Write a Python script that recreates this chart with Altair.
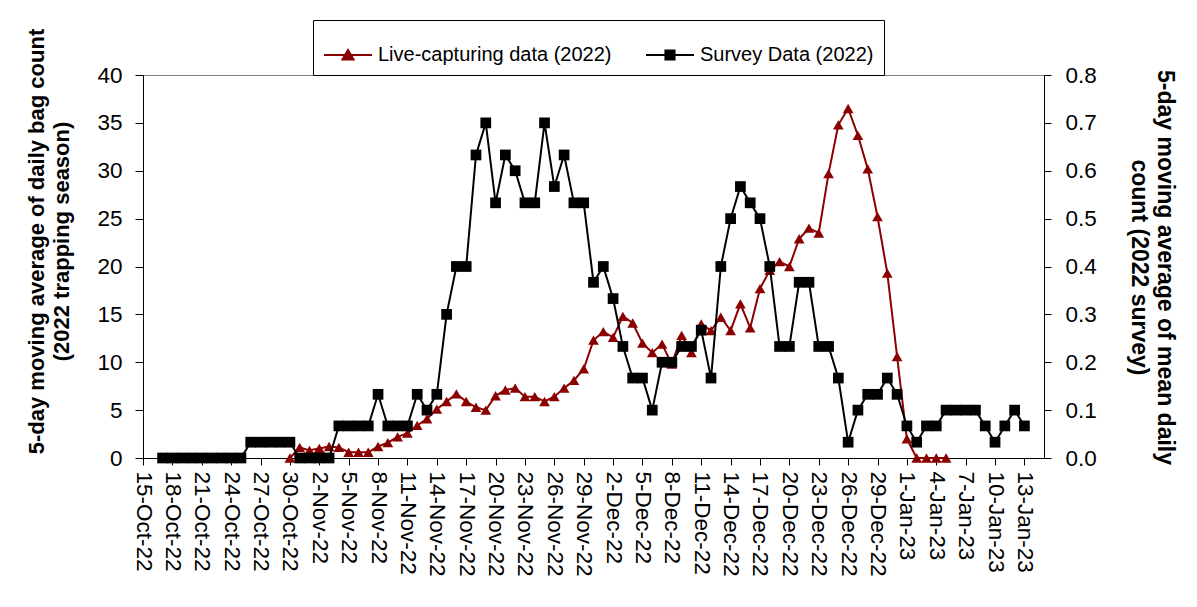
import altair as alt
import pandas as pd

# ---------------- data ----------------
SERIES_NAMES = ["Live-capturing data (2022)", "Survey Data (2022)"]
SERIES_COLORS = ["#8B0000", "#000000"]

# Live-capturing: 5-day moving average of daily bag count, daily from 30-Oct-22 to 5-Jan-23
LIVE_START = "2022-10-30"
live_values = [
    0.0, 1.1,
    0.8, 1.0, 1.2, 1.1, 0.6, 0.6, 0.6, 1.2, 1.6, 2.2, 2.6, 3.4, 4.1, 5.1, 5.9,
    6.7, 5.9, 5.3, 5.0, 6.5, 7.1, 7.3, 6.4, 6.4, 5.9, 6.4, 7.3, 8.1, 9.3, 12.3,
    13.2, 12.6, 14.8, 14.1, 12.0, 11.0, 11.9, 9.8, 12.8, 11.0, 14.0, 13.3, 14.7,
    13.3, 16.1, 13.6, 17.7, 19.6, 20.5, 20.0, 22.9, 24.0, 23.5, 29.7, 34.8, 36.5,
    33.7, 30.2, 25.2, 19.3, 10.6,
    2.0, 0.0, 0.0, 0.0, 0.0,
]

# Survey: 5-day moving average of mean daily count, daily from 17-Oct-22 to 13-Jan-23
SURVEY_START = "2022-10-17"
survey_values = [
    0, 0, 0, 0, 0, 0, 0, 0, 0,
    0.033, 0.033, 0.033, 0.033, 0.033,
    0, 0, 0, 0,
    0.067, 0.067, 0.067, 0.067,
    0.133,
    0.067, 0.067, 0.067,
    0.133, 0.1, 0.133, 0.3, 0.4, 0.4, 0.633, 0.7, 0.533, 0.633, 0.6, 0.533,
    0.533, 0.7, 0.567, 0.633, 0.533, 0.533, 0.367,
    0.4, 0.333, 0.233, 0.167, 0.167, 0.1, 0.2, 0.2, 0.233, 0.233, 0.267, 0.167,
    0.4, 0.5, 0.567, 0.533, 0.5, 0.4, 0.233, 0.233, 0.367, 0.367, 0.233, 0.233,
    0.167, 0.033, 0.1, 0.133, 0.133, 0.167, 0.133,
    0.067, 0.033, 0.067, 0.067, 0.1, 0.1, 0.1, 0.1, 0.067, 0.033, 0.067, 0.1, 0.067,
]

X_DOMAIN = ["2022-10-15", "2023-01-15"]
X_TICKS = [
    "2022-10-15", "2022-10-18", "2022-10-21", "2022-10-24", "2022-10-27", "2022-10-30",
    "2022-11-02", "2022-11-05", "2022-11-08", "2022-11-11", "2022-11-14", "2022-11-17",
    "2022-11-20", "2022-11-23", "2022-11-26", "2022-11-29", "2022-12-02", "2022-12-05",
    "2022-12-08", "2022-12-11", "2022-12-14", "2022-12-17", "2022-12-20", "2022-12-23",
    "2022-12-26", "2022-12-29", "2023-01-01", "2023-01-04", "2023-01-07", "2023-01-10",
    "2023-01-13",
]
LEFT_TICKS = [0, 5, 10, 15, 20, 25, 30, 35, 40]
RIGHT_TICKS = [0.0, 0.1, 0.2, 0.3, 0.4, 0.5, 0.6, 0.7, 0.8]

LEFT_TITLE = ["5-day moving average of daily bag count", "(2022 trapping season)"]
RIGHT_TITLE = ["5-day moving average of mean daily", "count (2022 survey)"]

# legend symbols: a short line with the marker in the middle
LEGEND_PATHS = [
    "M-1,0L1,0M0,-0.21L0.23,0.19L-0.23,0.19Z",
    "M-1,0L1,0M-0.19,-0.19L0.19,-0.19L0.19,0.19L-0.19,0.19Z",
]

FONT = "Liberation Sans"
LABEL_SIZE = 22.5


def dt(s):
    y, m, d = (int(p) for p in s.split("-"))
    return alt.DateTime(year=y, month=m, date=d, utc=True)


live_df = pd.DataFrame({
    "date": pd.date_range(LIVE_START, periods=len(live_values), freq="D").strftime("%Y-%m-%d"),
    "value": live_values,
})
survey_df = pd.DataFrame({
    "date": pd.date_range(SURVEY_START, periods=len(survey_values), freq="D").strftime("%Y-%m-%d"),
    "value": survey_values,
})

X = alt.X(
    "date:T",
    scale=alt.Scale(type="utc", domain=[dt(X_DOMAIN[0]), dt(X_DOMAIN[1])]),
    axis=alt.Axis(
        values=[dt(t) for t in X_TICKS],
        labelExpr="utcFormat(datum.value, '%-d-%b-%y')",
        labelAngle=90,
        labelAlign="left",
        labelBaseline="middle",
        labelFontSize=LABEL_SIZE,
        labelPadding=6,
        tickSize=7,
        title=None,
        labelOverlap=False,
    ),
)

Y_LEFT = alt.Y(
    "value:Q",
    scale=alt.Scale(domain=[0, 40], nice=False, zero=True),
    axis=alt.Axis(
        orient="left",
        values=LEFT_TICKS,
        labelFontSize=LABEL_SIZE,
        tickSize=8,
        labelPadding=13,
        title=LEFT_TITLE,
        titleFontSize=22,
        titleFontWeight="bold",
        titleLineHeight=25,
        titleAngle=270,
        titleBaseline="bottom",
        titleAlign="center",
        titleX=-95,
        titleY=166,
    ),
)

Y_RIGHT = alt.Y(
    "value:Q",
    scale=alt.Scale(domain=[0, 0.8], nice=False, zero=True),
    axis=alt.Axis(
        orient="right",
        values=RIGHT_TICKS,
        format=".1f",
        labelFontSize=LABEL_SIZE,
        tickSize=7,
        labelPadding=14,
        title=RIGHT_TITLE,
        titleFontSize=23,
        titleFontWeight="bold",
        titleLineHeight=26,
        titleAngle=90,
        titleBaseline="bottom",
        titleAlign="center",
        titleX=108,
        titleY=192,
    ),
)

live_line = alt.Chart(live_df).mark_line(color=SERIES_COLORS[0], strokeWidth=2).encode(x=X, y=Y_LEFT)
live_pts = alt.Chart(live_df).mark_point(
    shape="triangle-up", filled=True, size=115, color=SERIES_COLORS[0], opacity=1
).encode(x=X, y=Y_LEFT)
live = alt.layer(live_line, live_pts)

survey_line = alt.Chart(survey_df).mark_line(color=SERIES_COLORS[1], strokeWidth=2).encode(x=X, y=Y_RIGHT)
survey_pts = alt.Chart(survey_df).mark_point(
    shape="square", filled=True, size=115, color=SERIES_COLORS[1], opacity=1
).encode(x=X, y=Y_RIGHT)
survey = alt.layer(survey_line, survey_pts)

leg = alt.Legend(
    orient="none",
    legendX=170,
    legendY=-55,
    direction="horizontal",
    title=None,
    labelFontSize=20,
    labelFont=FONT,
    labelColor="black",
    labelOffset=5,
    labelLimit=500,
    symbolSize=2304,
    symbolStrokeWidth=2,
    symbolOpacity=1,
    columnPadding=30,
    padding=10,
    strokeColor="black",
    fillColor="white",
)

legend_df = pd.DataFrame({"series": SERIES_NAMES})
legend_layer = alt.Chart(legend_df).transform_filter("false").mark_point(filled=True, opacity=1).encode(
    color=alt.Color("series:N", scale=alt.Scale(domain=SERIES_NAMES, range=SERIES_COLORS), legend=leg),
    stroke=alt.Stroke("series:N", scale=alt.Scale(domain=SERIES_NAMES, range=SERIES_COLORS), legend=leg),
    shape=alt.Shape("series:N", scale=alt.Scale(domain=SERIES_NAMES, range=LEGEND_PATHS), legend=leg),
)

chart = (
    alt.layer(live, survey, legend_layer)
    .resolve_scale(y="independent")
    .properties(
        width=901,
        height=383,
        autosize=alt.AutoSizeParams(type="none"),
        padding={"left": 135, "top": 67, "right": 140, "bottom": 130},
    )
    .configure(font=FONT)
    .configure_view(stroke="#808080", strokeWidth=1)
    .configure_axis(
        grid=False,
        domainColor="black",
        domainWidth=1,
        tickColor="black",
        labelColor="black",
        titleColor="black",
        labelFont=FONT,
        titleFont=FONT,
    )
)

chart.save("out.html", embed_options={"renderer": "svg", "actions": False})
